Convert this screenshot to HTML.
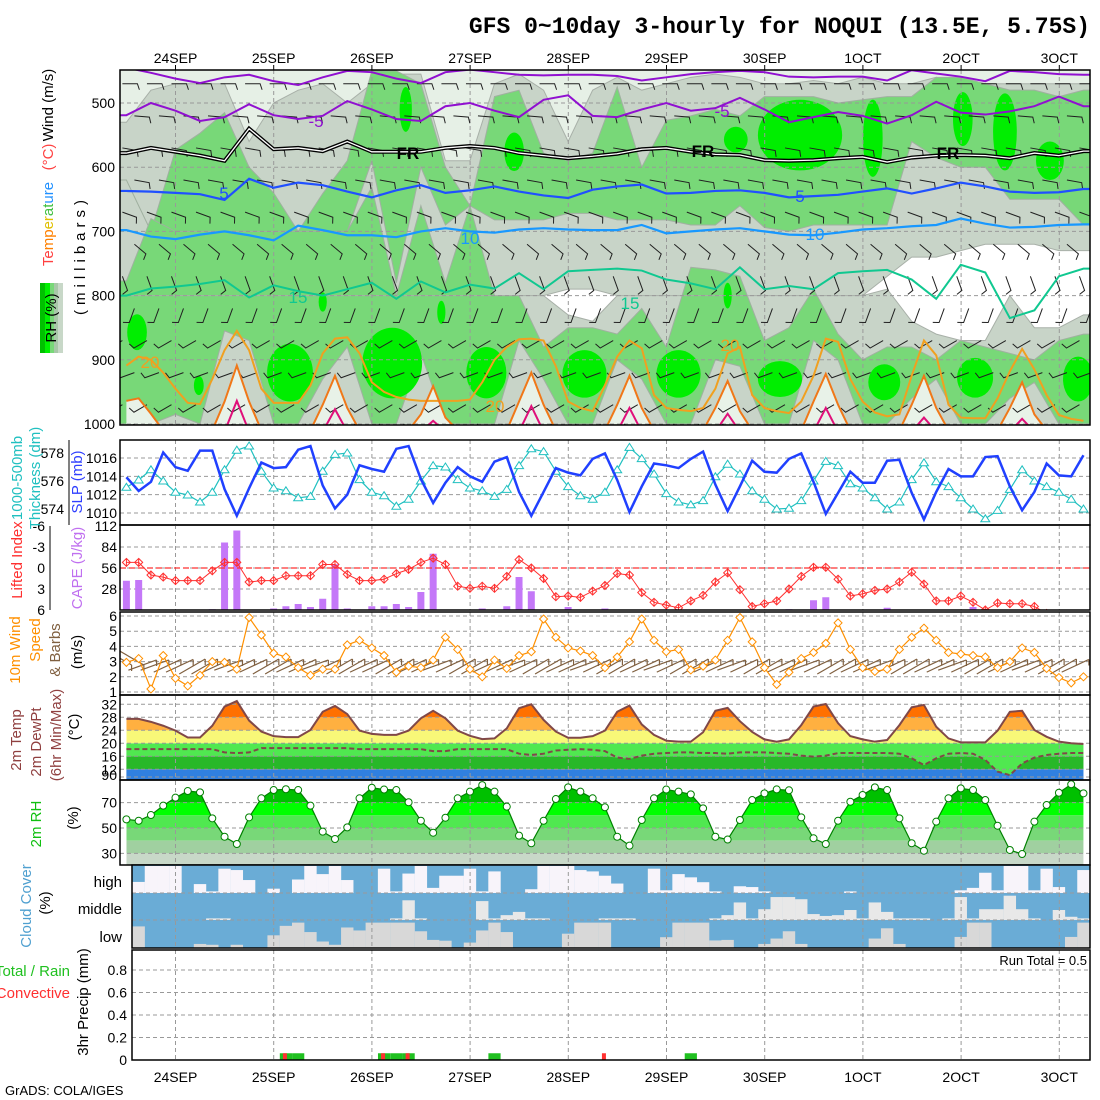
<!DOCTYPE html>
<html><head><meta charset="utf-8">
<style>
html,body{margin:0;padding:0;background:#fff;}
svg{display:block;font-family:"Liberation Sans",sans-serif;}
</style></head>
<body>
<svg id="chart" xmlns="http://www.w3.org/2000/svg" width="1100" height="1100" viewBox="0 0 1100 1100">
<defs>
<clipPath id="cp1"><rect x="120" y="70" width="970" height="355"/></clipPath>
<clipPath id="cp2"><rect x="120" y="440" width="970" height="85"/></clipPath>
<clipPath id="cp3"><rect x="120" y="525" width="970" height="85"/></clipPath>
<clipPath id="cp4"><rect x="120" y="612" width="970" height="83"/></clipPath>
<clipPath id="cp7"><rect x="132" y="865" width="958" height="83"/></clipPath>
</defs>
<rect x="0" y="0" width="1100" height="1100" fill="#fff"/>
<text x="1090" y="33" text-anchor="end" font-family="Liberation Mono, monospace" font-weight="bold" font-size="23">GFS 0~10day 3-hourly for NOQUI (13.5E, 5.75S)</text>
<g id="layer-top"></g>
<g id="layer-rest"></g>
<g id="labels" font-size="15">
  <text transform="translate(53,105) rotate(-90)" text-anchor="middle" fill="#000">Wind (m/s)</text>
  <text transform="translate(53,157) rotate(-90)" text-anchor="middle" fill="#ff4040">(°C)</text>
  <text transform="translate(53,224) rotate(-90)" text-anchor="middle"><tspan fill="#ff4040">Te</tspan><tspan fill="#ff8000">mp</tspan><tspan fill="#e0c000">er</tspan><tspan fill="#40c040">at</tspan><tspan fill="#2090ff">ure</tspan></text>
  <g>
    <rect x="40" y="283" width="5" height="70" fill="#00c000"/><rect x="45" y="283" width="5" height="70" fill="#00f000"/><rect x="50" y="283" width="4" height="70" fill="#78d878"/><rect x="54" y="283" width="4" height="70" fill="#a8c8a8"/><rect x="58" y="283" width="5" height="70" fill="#c8d8c8"/>
  </g>
  <text transform="translate(56,318) rotate(-90)" text-anchor="middle" fill="#000">RH (%)</text>
  <text transform="translate(85,255) rotate(-90)" text-anchor="middle" fill="#000" letter-spacing="5">(millibars)</text>
  <text transform="translate(22,478) rotate(-90)" text-anchor="middle" fill="#20c0c0">1000-500mb</text>
  <text transform="translate(40,478) rotate(-90)" text-anchor="middle" fill="#20c0c0">Thickness (dm)</text>
  <text transform="translate(82,482) rotate(-90)" text-anchor="middle" fill="#3040ff">SLP (mb)</text>
  <text transform="translate(22,560) rotate(-90)" text-anchor="middle" fill="#ff3030">Lifted Index</text>
  <text transform="translate(82,568) rotate(-90)" text-anchor="middle" fill="#c070f0">CAPE (J/kg)</text>
  <text transform="translate(20,650) rotate(-90)" text-anchor="middle" fill="#ff9000">10m Wind</text>
  <text transform="translate(40,640) rotate(-90)" text-anchor="middle" fill="#ff9000">Speed</text>
  <text transform="translate(60,650) rotate(-90)" text-anchor="middle" fill="#806040">&amp; Barbs</text>
  <text transform="translate(82,652) rotate(-90)" text-anchor="middle" fill="#000">(m/s)</text>
  <text transform="translate(21,740) rotate(-90)" text-anchor="middle" fill="#904040">2m Temp</text>
  <text transform="translate(41,742) rotate(-90)" text-anchor="middle" fill="#904040">2m DewPt</text>
  <text transform="translate(61,735) rotate(-90)" text-anchor="middle" fill="#904040">(6hr Min/Max)</text>
  <text transform="translate(79,727) rotate(-90)" text-anchor="middle" fill="#000">(°C)</text>
  <text transform="translate(41,824) rotate(-90)" text-anchor="middle" fill="#10c010">2m RH</text>
  <text transform="translate(78,818) rotate(-90)" text-anchor="middle" fill="#000">(%)</text>
  <text transform="translate(31,906) rotate(-90)" text-anchor="middle" fill="#50a0d0">Cloud Cover</text>
  <text transform="translate(50,903) rotate(-90)" text-anchor="middle" fill="#000">(%)</text>
  <text x="122" y="887" text-anchor="end" fill="#000">high</text>
  <text x="122" y="914" text-anchor="end" fill="#000">middle</text>
  <text x="122" y="942" text-anchor="end" fill="#000">low</text>
  <text x="70" y="976" text-anchor="end" fill="#20c020">Total / Rain</text>
  <text x="70" y="998" text-anchor="end" fill="#ff3030">Convective</text>
  <text transform="translate(88,1002) rotate(-90)" text-anchor="middle" fill="#000">3hr Precip (mm)</text>
  <text x="1087" y="965" text-anchor="end" font-size="13" fill="#000">Run Total = 0.5</text>
  <text x="5" y="1095" font-size="13" fill="#000">GrADS: COLA/IGES</text>
</g>
</svg>
<script>
// ---------- data ----------
const days = ["24SEP","25SEP","26SEP","27SEP","28SEP","29SEP","30SEP","1OCT","2OCT","3OCT"];
const pTicks = [500,600,700,800,900,1000];
const slp = [1013.9,1012.4,1013.4,1016.6,1015.0,1014.6,1016.8,1016.8,1012.6,1009.7,1012.7,1015.5,1014.9,1015.0,1016.9,1017.3,1013.0,1010.5,1012.0,1015.2,1014.8,1014.5,1017.0,1017.3,1013.7,1011.1,1013.3,1015.0,1014.0,1013.4,1015.6,1016.1,1012.3,1009.7,1012.3,1014.9,1014.4,1014.1,1015.9,1016.5,1013.6,1010.1,1012.9,1015.4,1015.2,1014.9,1015.9,1016.7,1013.1,1010.2,1012.9,1015.7,1014.5,1014.4,1015.9,1016.5,1013.4,1009.9,1012.2,1014.5,1013.3,1013.3,1015.7,1015.8,1012.2,1009.3,1012.3,1014.8,1014.0,1014.0,1016.1,1016.2,1012.9,1010.3,1012.3,1015.4,1014.1,1014.0,1016.3];
const thick = [575.55,576.07,576.8,576.0,575.2,575.0,574.5,575.2,576.8,578.2,578.5,576.7,575.5,575.3,574.8,574.9,576.7,577.9,578.0,576.1,575.2,574.95,574.2,574.7,576.0,577.1,577.0,576.1,575.5,575.3,574.9,575.4,577.1,578.3,578.1,576.7,575.6,574.95,574.7,575.2,576.8,578.4,577.6,576.5,575.1,574.5,574.3,574.6,576.3,577.2,576.5,575.3,574.7,574.0,574.05,574.6,576.0,577.4,577.1,575.8,575.5,574.8,574.0,574.5,576.1,577.3,575.95,575.6,574.8,574.0,573.3,573.9,575.4,576.8,576.0,575.6,575.2,574.7,574.0];
const slpTicks = [1016,1014,1012,1010];
const thickTicks = [578,576,574];
const li = [-0.8,-0.8,1.0,1.3,1.8,1.8,1.8,0.4,-0.8,-0.8,2.0,1.8,1.8,1.1,1.1,1.1,-0.5,-0.5,0.9,1.8,1.8,1.6,0.8,0.2,-0.8,-1.4,-0.5,2.6,2.9,2.6,2.9,1.2,-1.2,0,1.5,4.1,4.0,4.2,3.3,2.5,0.8,1.0,3.5,4.9,5.3,5.7,4.7,3.9,2.0,0.7,3.1,5.5,5.1,4.7,3.0,1.2,-0.1,-0.1,1.6,4.0,3.7,3.2,3.0,2.0,0.6,2.3,4.7,4.7,4.0,4.9,6.0,5.0,5.1,5.1,5.5,6.5,6.8,7,7];
const cape = [39,40,0,0,0,0,0,1,90,106,0,0,2,5,8,4,15,61,2,0,5,5,8,4,24,75,0,0,0,2,0,5,44,25,0,0,4,0,0,2,0,0,0,0,0,0,0,0,0,0,0,0,0,0,1,0,13,17,0,0,0,0,3,0,0,0,0,0,0,4,0,0,0,0,0,0,0,0,0];
const liTicks = [-6,-3,0,3,6];
const capeTicks = [112,84,56,28];
const wspd = [2.95,3.2,1.2,3.4,1.9,1.4,2.1,3.0,2.95,2.5,5.9,4.75,3.55,3.3,2.6,2.1,2.5,2.5,4.1,4.4,3.9,3.4,2.3,2.7,2.6,3.1,4.6,3.8,2.5,2.0,3.1,2.55,3.4,3.65,5.8,4.6,3.9,3.7,3.4,2.6,3.3,4.3,5.8,4.4,3.65,3.8,2.45,2.7,3.1,4.4,5.9,4.3,2.6,1.5,2.3,3.2,3.6,4.2,5.55,3.8,2.6,2.35,2.5,3.8,4.6,5.2,4.4,3.6,3.5,3.4,3.3,2.6,3.0,3.9,3.6,2.55,1.95,1.6,2.0];
const sfcDir = [300,300,250,250,245,245,240,240,245,250,245,245,240,240,245,245,250,245,240,240,245,245,240,240,245,245,250,245,240,240,245,245,250,245,240,240,245,245,250,245,240,240,245,245,250,245,240,240,245,245,250,245,240,240,245,245,250,245,240,240,245,245,250,245,240,240,245,245,250,245,240,240,245,245,250,245,240,240,245];
const wTicks = [6,5,4,3,2,1];
const temp = [27.5,27.5,26.6,25.4,23.9,21.8,21.8,25.4,31.3,33,27,23.6,22.2,21.9,21.9,24.1,29.7,31.5,29,23.9,22.9,22.6,22.6,23.9,27.7,30,27.7,23.9,22.3,21.3,21.5,24.6,30.8,32,27.2,23.6,21.7,21.7,22.2,23.9,29.7,31.6,25.8,22.6,20.8,20.5,20.5,23.4,30,30.9,26.8,23.5,21.2,20.5,21.2,25.6,31.3,32.1,26.2,22.2,21.2,20.5,21.0,25.6,31.1,31.8,25.1,21.5,20.3,20.3,20.3,23.9,29.7,30,24.1,22.0,20.5,20.0,19.8];
const dewpt = [18.2,18.2,18.2,18.2,18.2,18.2,18.2,18.2,17.2,17.0,17.2,18.5,18.5,18.5,18.5,18.5,18.5,18.5,18.5,18.2,18.2,18.2,18.2,18.2,18.2,17.6,17.6,18.2,18.2,18.2,18.2,18.2,16.8,16.4,16.8,17.8,18.0,18.2,18.0,17.6,15.6,15.2,16.2,16.8,17.0,17.2,17.2,17.0,17.0,16.8,17.2,17.2,17.2,17.0,16.8,16.2,15.9,16.2,17.0,17.0,17.0,17.0,17.0,16.8,15.4,13.3,15.4,16.8,17.0,16.8,14.9,11.3,10.2,13.8,15.6,16.4,16.8,17.0,17.0];
const tTicks = [32,28,24,20,16,12];
const rh2m = [56.8,55.7,60.2,67.6,73.9,79.1,78.1,57.6,43.1,37.4,58.4,73.4,79.9,80.5,79.9,67.6,47.1,41.3,50.5,73.4,81.7,80.3,79.9,70.3,55.7,46.3,58.1,73.4,78.6,83.8,78.6,66.8,44,38,55.7,72.8,82,78.6,73.4,66.3,43.1,36.1,56.3,73.4,80.3,78.6,76.5,65.5,43.1,40.9,56.3,72,77.3,80.4,79.7,58.4,41.9,37.4,55.7,70.7,76,82,79.9,57.6,38,32.1,55,73.4,81.2,79.9,72,51.8,32.7,29.5,55,68.1,77.8,84.4,77.3];
const rhTicks = [70,50,30];
const cloudHigh = [0,.41,1,1,1,0,.33,.06,.9,.85,.48,0,.16,0,.5,1,.7,1,.48,0,0,.9,.06,.72,1,.19,.64,.64,.9,.06,.8,0,0,.14,1,1,1,.85,.8,.64,.35,0,0,.9,.1,.7,.58,.4,.06,0,.25,.22,.06,0,0,0,0,0,0,.06,0,0,0,0,0,0,0,0,.1,.19,.75,.1,1,1,.1,.9,.22,0,.85];
const cloudMid = [0,0,0,0,0,0,0,.06,.06,0,0,0,0,0,0,0,0,0,0,0,0,0,.06,.73,.06,0,0,0,0,.7,.06,.18,.3,.06,.06,0,0,0,0,.06,.06,.06,0,0,0,0,0,0,.06,.18,.65,.06,.4,.85,.85,.77,.22,.15,.18,.37,.06,.65,.3,.06,.06,.06,0,.06,.85,.06,.4,.4,.9,.4,.06,0,.37,.12,.06];
const cloudLow = [.8,.8,0,0,0,0,.15,.12,0,.12,0,0,.47,.82,.94,.59,.24,.12,.76,.65,.94,.94,.94,.94,.62,.3,.27,0,.2,.65,.94,.59,0,0,0,0,.53,.94,.94,.94,0,0,0,0,.4,.94,.94,.94,.28,.3,0,0,.15,.35,.62,.15,0,0,0,0,0,.35,.73,.15,0,0,0,0,.41,.94,.94,0,0,0,0,0,0,.41,.94];
const precipTotal = [0,0,0,0,0,0,0,0,0,0,0,0,0,.06,.06,0,0,0,0,0,0,.06,.06,.06,0,0,0,0,0,0,.06,0,0,0,0,0,0,0,0,0,0,0,0,0,0,0,.06,0,0,0,0,0,0,0,0,0,0,0,0,0,0,0,0,0,0,0,0,0,0,0,0,0,0,0,0,0,0,0,0];
const precipConv = [0,0,0,0,0,0,0,0,0,0,0,0,0,.06,0,0,0,0,0,0,0,.06,0,.06,0,0,0,0,0,0,0,0,0,0,0,0,0,0,0,.06,0,0,0,0,0,0,0,0,0,0,0,0,0,0,0,0,0,0,0,0,0,0,0,0,0,0,0,0,0,0,0,0,0,0,0,0,0,0,0];
const prTicks = [0.8,0.6,0.4,0.2,0];
// upper-air (6-hourly) contour pressures
const tm10 = [445,453,462,469,460,456,466,472,460,450,452,462,469,452,448,452,456,457,456,456,458,465,460,455,452,450,452,459,460,459,459,465,449,454,459,466,450,452,455,456];
const tm5 = [519,500,512,528,522,502,519,525,520,497,510,525,528,505,500,512,522,495,488,520,522,510,500,512,508,492,510,530,522,514,520,532,519,498,515,518,513,505,490,505];
const t0 = [578,570,576,582,590,540,572,570,575,560,576,576,576,570,567,570,578,582,586,583,579,572,570,576,580,581,589,590,589,586,584,592,585,582,581,582,586,578,582,575];
const t5 = [637,638,640,642,651,618,632,624,628,638,647,636,628,640,636,630,638,644,648,635,630,627,641,640,637,636,640,647,645,643,638,633,641,633,624,630,638,640,639,634];
const t10 = [698,708,712,705,700,706,714,691,698,706,706,709,700,695,700,702,697,695,697,698,698,690,703,700,697,695,700,705,706,702,697,695,692,690,680,688,694,693,690,689];
const t15 = [800,789,786,782,776,803,784,793,800,790,780,805,778,795,783,789,765,790,762,760,758,761,775,781,790,756,790,785,790,765,762,760,775,805,752,764,835,823,770,758];
// near-surface contours (3-hourly)
const t20 = [909,895,900,920,945,967,969,930,885,855,885,945,967,967,967,940,890,867,865,890,935,950,958,962,964,964,964,964,962,935,900,880,868,867,870,910,965,975,980,940,895,870,882,955,975,978,980,975,945,890,880,955,975,980,983,965,925,867,872,930,965,982,988,985,925,870,893,970,990,991,991,960,918,883,915,955,986,992,995];
const t25 = [964,960,984,1010,1010,1010,1010,1010,965,909,965,1010,1010,1010,1010,1010,970,925,975,1010,1010,1010,1010,1010,985,941,990,1010,1010,1010,1010,1010,965,920,970,1010,1010,1010,1010,1010,970,925,975,1010,1010,1010,1010,1010,975,933,980,1010,1010,1010,1010,1010,965,922,970,1010,1010,1010,1010,1010,970,925,975,1010,1010,1010,1010,1010,975,935,985,1010,1010,1010,1010];
const t30 = [1012,1012,1012,1012,1012,1012,1012,1012,1012,964,1012,1012,1012,1012,1012,1012,1012,977,1012,1012,1012,1012,1012,1012,1012,995,1012,1012,1012,1012,1012,1012,1012,972,1012,1012,1012,1012,1012,1012,1012,975,1012,1012,1012,1012,1012,1012,1012,984,1012,1012,1012,1012,1012,1012,1012,975,1012,1012,1012,1012,1012,1012,1012,990,1012,1012,1012,1012,1012,1012,1012,992,1012,1012,1012,1012,1012];
// RH layers (6-hourly pressures)
const lightBot = [530,480,470,470,470,560,500,480,470,500,470,455,455,590,590,470,455,480,560,480,460,480,470,460,455,460,470,470,465,470,460,470,470,460,470,470,470,470,470,470];
const green1Top = [620,700,573,547,515,600,640,700,641,590,450,450,470,600,660,490,480,578,590,578,475,600,527,520,510,520,490,490,490,500,495,490,490,460,460,470,480,480,490,480];
const green1Bot = [620,700,700,700,700,700,700,700,700,700,590,780,600,690,660,682,682,682,672,672,682,682,682,690,690,660,694,700,690,690,690,690,560,585,600,600,650,650,650,690];
const green2Top = [777,680,700,700,700,700,700,700,700,700,631,800,660,780,660,800,800,880,850,850,860,820,880,756,760,770,870,850,790,860,900,880,880,900,870,880,890,900,870,860];
const green2Bot = [1000,1000,985,1000,855,870,1000,1000,930,880,1000,1000,890,1000,1000,1000,870,930,1000,1000,900,930,1000,1000,900,910,1000,1000,870,900,1000,1000,960,930,1000,1000,960,935,1000,1000];
const whiteTop = [800,800,800,800,800,800,800,800,800,800,800,800,800,800,800,800,800,800,790,790,800,800,800,800,800,800,800,800,800,800,800,770,740,740,730,720,720,720,730,730];
const whiteBot = [800,800,800,800,800,800,800,800,800,800,800,800,800,800,800,800,800,800,830,840,800,800,800,800,800,800,800,800,800,800,800,790,840,860,870,870,800,850,850,830];
const blobHour = [2.6,40,48,17.7,65,68.3,94.8,77,88,112,135,149,147,164.7,182.5,204.5,214.8,225.8,159.8,185.3,207.5,232.7];
const blobP = [857,920,810,940,905,510,576,826,920,922,922,557,800,550,555,525,545,590,930,935,928,930];
const blobRh = [2.4,5.6,1,1.2,7.3,1.5,2.4,1,4.9,5.4,5.4,2.9,1,10.3,2.4,2.4,2.9,3.4,5.4,3.9,4.4,3.7];
const blobRp = [28,45,15,15,55,35,30,18,40,37,37,20,20,55,60,42,60,30,28,28,31,35];
// upper barbs
const barbLevels = [470,520,570,620,670,720,770,820,870,920,970,1000];
const barbDir = [90,95,100,100,110,130,160,200,240,250,240,230];

// ---------- scales ----------
const NS = "http://www.w3.org/2000/svg";
const X = i => 126.4 + 12.27 * i;
const xH = h => 126.4 + 4.09 * h;
const xDay = k => 175.5 + 98.2 * k;
const yP = p => 103 + (p - 500) * 0.642;
const ySLP = v => 513 - (v - 1010) * 9.17;
const yTh = v => 509 - (v - 574) * 14;
const yLI = v => 568 + v * 7;
const yCAPE = v => 610 - v * 0.75;
const yW = v => 692 - (v - 1) * 15.2;
const yT = v => 743.3 - (v - 20) * 3.25;
const yRH = v => 828 - (v - 50) * 1.27;
const yPr = v => 1060 - v * 112.5;

function mk(tag, attrs, parent) {
  const e = document.createElementNS(NS, tag);
  for (const k in attrs) e.setAttribute(k, attrs[k]);
  parent.appendChild(e);
  return e;
}
const topG = document.getElementById('layer-top');
const rest = document.getElementById('layer-rest');

// ---------- upper-air panel ----------
const g1 = mk('g', {'clip-path': 'url(#cp1)'}, topG);


const bg1 = mk('rect', {x: 120, y: 70, width: 970, height: 355, fill: '#c8d4c8'}, g1);



function bandPts(topArr, botArr, xf) {
  const n = topArr.length;
  const a = [], b = [];
  a.push('120,' + yP(topArr[0]));
  for (let j = 0; j < n; j++) a.push(xf(j) + ',' + yP(topArr[j]));
  a.push('1090,' + yP(topArr[n - 1]));
  b.push('1090,' + yP(botArr[n - 1]));
  for (let j = n - 1; j >= 0; j--) b.push(xf(j) + ',' + yP(botArr[j]));
  b.push('120,' + yP(botArr[0]));
  return a.concat(b).join(' ');
}
const x6 = j => X(2 * j);
{
  const pts = ['120,70', '1090,70', '1090,' + yP(lightBot[39])];
  for (let j = 39; j >= 0; j--) pts.push(x6(j) + ',' + yP(lightBot[j]));
  pts.push('120,' + yP(lightBot[0]));
  const e = mk('polygon', {points: pts.join(' '), fill: '#e6f0e6', stroke: '#a8b0a8', 'stroke-width': 1}, g1);
  
  
}
{
  const e = mk('polygon', {points: bandPts(green1Top, green1Bot, x6), fill: '#78d878', stroke: '#a0b0a0', 'stroke-width': 1}, g1);
  
  
  const f = mk('polygon', {points: bandPts(green2Top, green2Bot, x6), fill: '#78d878', stroke: '#a0b0a0', 'stroke-width': 1}, g1);
  
  
  const w = mk('polygon', {points: bandPts(whiteTop, whiteBot, x6), fill: '#ffffff', stroke: '#a8b0a8', 'stroke-width': 1}, g1);
  
  
}
for (let k = 0; k < blobHour.length; k++) {
  const e = mk('ellipse', {cx: xH(blobHour[k]), cy: yP(blobP[k]), rx: blobRh[k] * 4.09, ry: blobRp[k] * 0.642, fill: '#00ee00'}, g1);
  
  
}
{
  const pts = [X(0) + ',424'];
  t25.forEach((v, i) => pts.push(X(i) + ',' + yP(v)));
  pts.push(X(78) + ',424');
  const e = mk('polygon', {points: pts.join(' '), fill: '#e8f2e8'}, g1);
  
  
}
for (let k = 0; k < days.length; k++) {
  const e = mk('line', {x1: xDay(k), x2: xDay(k), y1: 70, y2: 425, stroke: '#999', 'stroke-dasharray': '4,3', 'stroke-width': 1}, g1);
  
  
}
pTicks.forEach(p => {
  const e = mk('line', {x1: 120, x2: 1090, y1: yP(p), y2: yP(p), stroke: '#999', 'stroke-dasharray': '4,3', 'stroke-width': 1}, g1);
  
  
});
for (let j = 0; j < 40; j++) {
  barbLevels.forEach((p, L) => {
    const x0 = x6(j) + (L % 2 ? 8 : -4), y0 = yP(p);
    const a = barbDir[L] * Math.PI / 180;
    const dx = Math.sin(a), dy = -Math.cos(a);
    const x1 = x0 + dx * 15, y1 = y0 + dy * 15;
    const d = 'M' + x0 + ',' + y0 + 'L' + x1 + ',' + y1 + 'l' + (-dy * 6 + dx * 2) + ',' + (dx * 6 + dy * 2);
    const e = mk('path', {d: d, stroke: '#202020', 'stroke-width': 1, fill: 'none'}, g1);
    
    
  });
}
function contour6(arr, color, w, name) {
  const pts = arr.map((v, j) => x6(j) + ',' + yP(v));
  pts.unshift('120,' + yP(arr[0]));
  pts.push('1090,' + yP(arr[arr.length - 1]));
  const e = mk('polyline', {points: pts.join(' '), fill: 'none', stroke: color, 'stroke-width': w}, g1);
  
  
  return e;
}
function contour3(arr, color, w, name) {
  const pts = arr.map((v, i) => X(i) + ',' + yP(v));
  const e = mk('polyline', {points: pts.join(' '), fill: 'none', stroke: color, 'stroke-width': w}, g1);
  
  
}
contour6(tm10, '#9010d0', 2, 'temp-contour-minus10');
contour6(tm5, '#9010d0', 2, 'temp-contour-minus5');
contour6(t0, '#000', 4, 'freezing-level-outer');
contour6(t0, '#fff', 1.3, 'freezing-level-inner');
contour6(t5, '#2050ff', 2.2, 'temp-contour-5');
contour6(t10, '#1898ff', 2.2, 'temp-contour-10');
contour6(t15, '#10c890', 2, 'temp-contour-15');
contour3(t20, '#f0a020', 2, 'temp-contour-20');
contour3(t25, '#f07818', 2, 'temp-contour-25');
contour3(t30, '#e0107a', 2, 'temp-contour-30');
const cLabels = [
  ['-5', 316, 127, '#9010d0'], ['-5', 722, 117, '#9010d0'],
  ['FR', 408, 159, '#000'], ['FR', 703, 157, '#000'], ['FR', 948, 159, '#000'],
  ['5', 224, 199, '#2050ff'], ['5', 800, 202, '#2050ff'],
  ['10', 470, 244, '#1898ff'], ['10', 815, 240, '#1898ff'],
  ['15', 298, 303, '#10c890'], ['15', 630, 309, '#10c890'],
  ['20', 150, 368, '#f0a020'], ['20', 730, 351, '#f0a020'], ['20', 495, 412, '#f0a020']
];
cLabels.forEach(c => {
  const e = mk('text', {x: c[1], y: c[2], fill: c[3], 'font-size': 17, 'text-anchor': 'middle', 'font-weight': c[0] === 'FR' ? 'bold' : 'normal'}, g1);
  e.textContent = c[0];
  
  
});
{
  const e = mk('rect', {x: 120, y: 70, width: 970, height: 355, fill: 'none', stroke: '#000', 'stroke-width': 1.5}, topG);
  
  
}
pTicks.forEach(p => {
  const e = mk('text', {x: 115, y: yP(p) + 5, 'text-anchor': 'end', 'font-size': 14}, topG);
  e.textContent = p;
  
  
});
days.forEach((d, k) => {
  const e = mk('text', {x: xDay(k), y: 63, 'text-anchor': 'middle', 'font-size': 14}, topG);
  e.textContent = d;
  
  
  const t = mk('line', {x1: xDay(k), x2: xDay(k), y1: 65, y2: 70, stroke: '#000'}, topG);
  
  
  const b = mk('text', {x: xDay(k), y: 1082, 'text-anchor': 'middle', 'font-size': 14}, topG);
  b.textContent = d;
  
  
});

// ---------- helpers for lower panels ----------
function vgrid(y1, y2) {
  for (let k = 0; k < days.length; k++) {
    const e = mk('line', {x1: xDay(k), x2: xDay(k), y1: y1, y2: y2, stroke: '#999', 'stroke-dasharray': '4,3'}, rest);
    
    
  }
}
function hgrid(y, x1, color) {
  const e = mk('line', {x1: x1 || 120, x2: 1090, y1: y, y2: y, stroke: color || '#999', 'stroke-dasharray': '4,3'}, rest);
  
  
}
function tickLabel(txt, x, y, color) {
  const e = mk('text', {x: x, y: y + 5, 'text-anchor': 'end', 'font-size': 14, fill: color || '#000'}, rest);
  e.textContent = txt;
  
  
}
function frameRect(x, y, w, h, name) {
  const e = mk('rect', {x: x, y: y, width: w, height: h, fill: 'none', stroke: '#000', 'stroke-width': 1.5}, rest);
  
  
}
function seriesLine(arr, f, color, w, name, parent, dash) {
  const pts = arr.map((v, i) => X(i) + ',' + f(v)).join(' ');
  const e = mk('polyline', {points: pts, fill: 'none', stroke: color, 'stroke-width': w}, parent || rest);
  if (dash) e.setAttribute('stroke-dasharray', dash);
  
  
}

// ---------- panel 2: thickness / SLP ----------
vgrid(440, 525);
slpTicks.forEach(v => { hgrid(ySLP(v)); tickLabel(v, 117, ySLP(v)); });
thickTicks.forEach(v => tickLabel(v, 64, yTh(v)));
{
  const e = mk('line', {x1: 69, x2: 69, y1: 440, y2: 525, stroke: '#000'}, rest);
  
  
}
const g2 = mk('g', {'clip-path': 'url(#cp2)'}, rest);


seriesLine(thick, yTh, '#20c0c0', 1.2, 'thickness-line', g2);
thick.forEach((v, i) => {
  const x = X(i), y = yTh(v);
  const e = mk('path', {d: 'M' + x + ',' + (y - 4) + 'L' + (x + 4.5) + ',' + (y + 3) + 'L' + (x - 4.5) + ',' + (y + 3) + 'Z', fill: '#fff', stroke: '#20c0c0', 'stroke-width': 1}, g2);
  
  
});
seriesLine(slp, ySLP, '#2040ff', 2.5, 'slp-line', g2);
frameRect(120, 440, 970, 85, 'thickness-slp-frame');

// ---------- panel 3: CAPE / LI ----------
vgrid(525, 610);
capeTicks.forEach(v => { if (v !== 112) hgrid(yCAPE(v)); tickLabel(v, 117, yCAPE(v)); });
liTicks.forEach(v => tickLabel(v, 45, yLI(v)));
{
  const e = mk('line', {x1: 50, x2: 50, y1: 526, y2: 610, stroke: '#000'}, rest);
  
  
}
const g3 = mk('g', {'clip-path': 'url(#cp3)'}, rest);


cape.forEach((v, i) => {
  if (v <= 0) return;
  const e = mk('rect', {x: X(i) - 3.5, y: yCAPE(v), width: 7, height: 610 - yCAPE(v), fill: '#c478f8'}, g3);
  
  
});
{
  const e = mk('line', {x1: 120, x2: 1090, y1: yLI(0), y2: yLI(0), stroke: '#ff3030', 'stroke-dasharray': '6,3', 'stroke-width': 1.3}, g3);
  
  
}
seriesLine(li, yLI, '#ff3030', 1, 'lifted-index-line', g3);
li.forEach((v, i) => {
  const x = X(i), y = yLI(v);
  const e = mk('path', {d: 'M' + x + ',' + (y - 4) + 'L' + (x + 4) + ',' + y + 'L' + x + ',' + (y + 4) + 'L' + (x - 4) + ',' + y + 'Z M' + x + ',' + (y - 4) + 'V' + (y + 4), fill: 'none', stroke: '#ff3030', 'stroke-width': 1}, g3);
  
  
});
frameRect(120, 525, 970, 85, 'cape-li-frame');

// ---------- panel 4: wind ----------
vgrid(612, 695);
wTicks.forEach(v => { hgrid(yW(v)); tickLabel(v, 117, yW(v)); });
const g4 = mk('g', {'clip-path': 'url(#cp4)'}, rest);


sfcDir.forEach((d, i) => {
  const x0 = X(i), y0 = 662;
  const a = d * Math.PI / 180;
  const dx = Math.sin(a), dy = -Math.cos(a);
  const x1 = x0 + dx * 24, y1 = y0 + dy * 24;
  const e = mk('path', {d: 'M' + (x0 - dx * 6) + ',' + (y0 - dy * 6) + 'L' + x1 + ',' + y1 + 'M' + (x0 - dx * 6) + ',' + (y0 - dy * 6) + 'l0,6', stroke: '#806040', 'stroke-width': 1.2, fill: 'none'}, g4);
  
  
});
seriesLine(wspd, yW, '#ff9000', 1.2, 'wind-speed-line', g4);
wspd.forEach((v, i) => {
  const x = X(i), y = yW(v);
  const e = mk('path', {d: 'M' + x + ',' + (y - 4) + 'L' + (x + 4) + ',' + y + 'L' + x + ',' + (y + 4) + 'L' + (x - 4) + ',' + y + 'Z', fill: '#fff', stroke: '#ff9000', 'stroke-width': 1}, g4);
  
  
});
frameRect(120, 612, 970, 83, 'wind-frame');

// ---------- panel 5: temperature ----------
{
  const x0 = X(0), x1 = X(78);
  const bands = [[16, 20, '#50e850'], [12, 16, '#28b828'], [5, 12, '#3080e0']];
  bands.forEach(b => {
    const e = mk('rect', {x: x0, y: yT(b[1]), width: x1 - x0, height: Math.min(780, yT(b[0])) - yT(b[1]), fill: b[2]}, rest);
    
    
  });
  const pts = [x0 + ',' + yT(16)];
  dewpt.forEach((v, i) => pts.push(X(i) + ',' + yT(Math.min(v, 16))));
  pts.push(x1 + ',' + yT(16));
  const dp = mk('polygon', {points: pts.join(' '), fill: '#50e850'}, rest);
  
  
  const cp = mk('clipPath', {id: 'cpT'}, rest);
  const tp = [x0 + ',' + yT(20)];
  temp.forEach((v, i) => tp.push(X(i) + ',' + yT(v)));
  tp.push(x1 + ',' + yT(20));
  mk('polygon', {points: tp.join(' ')}, cp);
  const gt = mk('g', {'clip-path': 'url(#cpT)'}, rest);
  
  
  [[20, 24, '#f8f878'], [24, 28, '#ffb040'], [28, 36, '#ff7000']].forEach(b => {
    const e = mk('rect', {x: x0, y: yT(b[1]), width: x1 - x0, height: yT(b[0]) - yT(b[1]), fill: b[2]}, gt);
    
    
  });
}
vgrid(696, 780);
tTicks.forEach(v => { hgrid(yT(v)); tickLabel(v, 117, yT(v)); });
hgrid(777); tickLabel('90', 117, 775);
seriesLine(dewpt, yT, '#804848', 2, 'dewpoint-line', rest, '5,3');
seriesLine(temp, yT, '#804848', 2, 'temperature-line');
frameRect(120, 695, 970, 85, 'temperature-frame');

// ---------- panel 6: RH ----------
{
  const x0 = X(0), x1 = X(78);
  const cp = mk('clipPath', {id: 'cpR'}, rest);
  const pts = [x0 + ',865'];
  rh2m.forEach((v, i) => pts.push(X(i) + ',' + yRH(v)));
  pts.push(x1 + ',865');
  mk('polygon', {points: pts.join(' ')}, cp);
  const gr = mk('g', {'clip-path': 'url(#cpR)'}, rest);
  
  
  [[70, 100, '#00c000'], [60, 70, '#00ff00'], [50, 60, '#50e850'], [40, 50, '#78d878'], [30, 40, '#a0d0a0'], [0, 30, '#c8d8c8']].forEach(b => {
    const e = mk('rect', {x: x0, y: yRH(b[1]), width: x1 - x0, height: Math.min(865, yRH(b[0])) - yRH(b[1]), fill: b[2]}, gr);
    
    
  });
}
vgrid(781, 865);
rhTicks.forEach(v => { hgrid(yRH(v)); tickLabel(v, 117, yRH(v)); });
seriesLine(rh2m, yRH, '#008000', 1.2, 'rh-line');
rh2m.forEach((v, i) => {
  const e = mk('circle', {cx: X(i), cy: yRH(v), r: 3.5, fill: '#fff', stroke: '#008000', 'stroke-width': 1}, rest);
  
  
});
frameRect(120, 780, 970, 85, 'rh-frame');

// ---------- panel 7: cloud cover ----------
const g7 = mk('g', {'clip-path': 'url(#cp7)'}, rest);


{
  const e = mk('rect', {x: 132, y: 865, width: 958, height: 83, fill: '#6aacd6'}, g7);
  
  
}
const rows = [[cloudHigh, 893, '#f8f4fa', 'cloud-high-bar'], [cloudMid, 920, '#e8e8e8', 'cloud-middle-bar'], [cloudLow, 948, '#d8d8d8', 'cloud-low-bar']];
rows.forEach(r => {
  r[0].forEach((v, i) => {
    if (v <= 0) return;
    const h = v * 27;
    const e = mk('rect', {x: X(i) - 6.2, y: r[1] - h, width: 12.4, height: h, fill: r[2]}, g7);
    
    
  });
});
for (let k = 0; k < days.length; k++) {
  const e = mk('line', {x1: xDay(k), x2: xDay(k), y1: 865, y2: 948, stroke: '#999', 'stroke-dasharray': '4,3'}, g7);
  
  
}
hgrid(893, 132); hgrid(920, 132);
frameRect(132, 865, 958, 83, 'cloud-frame');

// ---------- panel 8: precip ----------
vgrid(950, 1060);
prTicks.forEach(v => { if (v > 0) hgrid(yPr(v), 132); tickLabel(v === 0 ? '0' : v.toFixed(1), 127, yPr(v)); });
precipTotal.forEach((v, i) => {
  if (v <= 0) return;
  const e = mk('rect', {x: X(i) - 6.1, y: yPr(v), width: 12.2, height: 1060 - yPr(v), fill: '#20c020'}, rest);
  
  
});
precipConv.forEach((v, i) => {
  if (v <= 0) return;
  const e = mk('rect', {x: X(i) - 3, y: yPr(v), width: 4, height: 1060 - yPr(v), fill: '#ff3030'}, rest);
  
  
});
frameRect(132, 950, 958, 110, 'precip-frame');
</script>
</body></html>
